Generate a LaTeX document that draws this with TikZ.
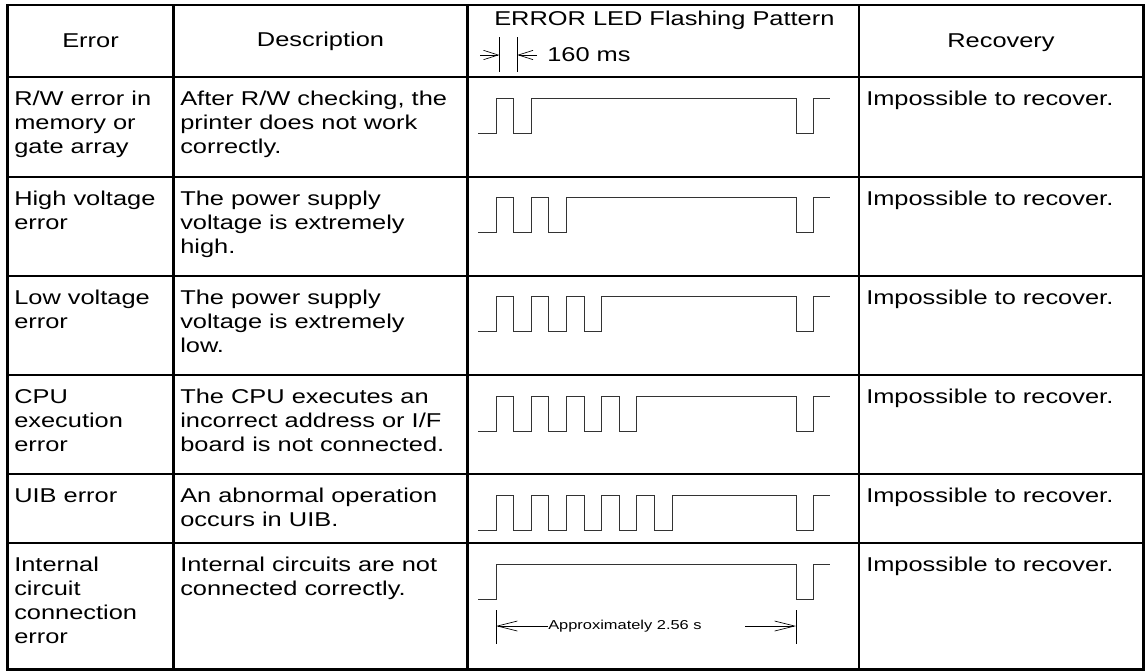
\documentclass[tikz,border=0pt]{standalone}
\usepackage{fontspec}
\setmainfont{Liberation Sans}[FakeStretch=1.27]
\usetikzlibrary{arrows.meta}

\begin{document}
\begin{tikzpicture}[
    x=0.75pt, y=-0.75pt,
    grid/.style={line width=1.6pt},
    wave/.style={line width=0.75pt, black!80},
    cell/.style={anchor=north west, align=left, inner sep=0pt,
      font=\fontsize{15pt}{18pt}\selectfont},
    head/.style={inner sep=0pt, font=\fontsize{15pt}{18pt}\selectfont},
    tick/.style={line width=0.5pt},
    dimarrow/.style={line width=0.5pt, -{Straight Barb[length=11pt, width=7pt]}}
  ]
  \useasboundingbox (0,0) rectangle (1145,671);
  % table frame
  \draw[grid] (7.5,5) rectangle (1143.5,669.5);
  \foreach \x in {173.5,467.5,859}
    \draw[grid] (\x,5) -- (\x,669.5);
  \foreach \y in {77,176.7,275.7,375,474,543}
    \draw[grid] (7.5,\y) -- (1143.5,\y);

  % header
  \node[head] (hErr) at (90.5,41) {Error};
  \node[head] (hDesc) at (320.5,41) {Description};
  \node[head, anchor=west] (hPat) at (494,20) {ERROR LED Flashing Pattern};
  \node[head, anchor=west] (hMs) at (547,55) {160 ms};
  \node[head] (hRec) at (1001,43) {Recovery};

  % 160 ms marker
  \coordinate (m1) at (499.3,55);
  \coordinate (m2) at (517.3,55);
  \draw[tick] (499.3,37) -- (499.3,72);
  \draw[tick] (517.3,37) -- (517.3,72);
  \draw[dimarrow] (480,55) -- (m1);
  \draw[dimarrow] (537,55) -- (m2);

  % rows
  \node[cell] (err1) at (14,91) {R/W error in\\memory or\\gate array};
  \node[cell] (desc1) at (180,91) {After R/W checking, the\\printer does not work\\correctly.};
  \node[cell] (rec1) at (866,91) {Impossible to recover.};

  \node[cell] (err2) at (14,190.7) {High voltage\\error};
  \node[cell] (desc2) at (180,190.7) {The power supply\\voltage is extremely\\high.};
  \node[cell] (rec2) at (866,190.7) {Impossible to recover.};

  \node[cell] (err3) at (14,289.7) {Low voltage\\error};
  \node[cell] (desc3) at (180,289.7) {The power supply\\voltage is extremely\\low.};
  \node[cell] (rec3) at (866,289.7) {Impossible to recover.};

  \node[cell] (err4) at (14,389) {CPU\\execution\\error};
  \node[cell] (desc4) at (180,389) {The CPU executes an\\incorrect address or I/F\\board is not connected.};
  \node[cell] (rec4) at (866,389) {Impossible to recover.};

  \node[cell] (err5) at (14,488) {UIB error};
  \node[cell] (desc5) at (180,488) {An abnormal operation\\occurs in UIB.};
  \node[cell] (rec5) at (866,488) {Impossible to recover.};

  \node[cell] (err6) at (14,557) {Internal\\circuit\\connection\\error};
  \node[cell] (desc6) at (180,557) {Internal circuits are not\\connected correctly.};
  \node[cell] (rec6) at (866,557) {Impossible to recover.};

  % flashing patterns: n short pulses, then long on, then one gap
  \foreach \n/\t in {1/77, 2/176.7, 3/275.7, 4/375, 5/474}
    \draw[wave] (478,\t+56) -- (496,\t+56)
      \foreach \k in {1,...,\n} { -- ++(0,-35) -- ++(17.6,0) -- ++(0,35) -- ++(17.6,0) }
      -- ++(0,-35) -- (796,\t+21) -- (796,\t+56) -- (813,\t+56)
      -- (813,\t+21) -- (830,\t+21);
  \draw[wave] (478,599) -- (496,599) -- (496,564) -- (796,564)
    -- (796,599) -- (813,599) -- (813,564) -- (830,564);

  % 2.56 s span
  \coordinate (s1) at (496,626);
  \coordinate (s2) at (796,626);
  \coordinate (s3) at (745,626);
  \draw[tick] (496,610) -- (496,644);
  \draw[tick] (796,610) -- (796,644);
  \node[inner sep=0pt, anchor=west, font=\fontsize{9.7pt}{11pt}\selectfont] (span) at (548,626) {Approximately 2.56 s};
  \draw[dimarrow, -{Straight Barb[length=15pt, width=7.5pt]}] (span.west) -- (s1);
  \draw[dimarrow, -{Straight Barb[length=15pt, width=7.5pt]}] (s3) -- (s2);
\end{tikzpicture}
\end{document}
